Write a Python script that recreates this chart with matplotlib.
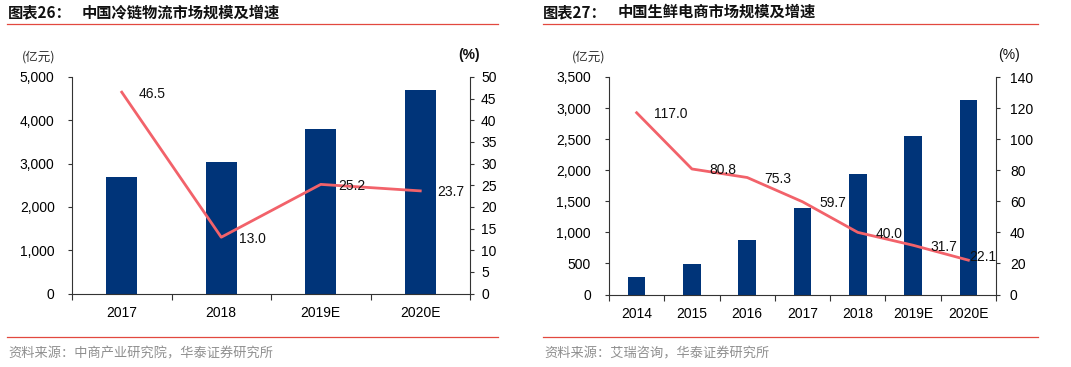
import matplotlib
matplotlib.use('Agg')
import matplotlib.pyplot as plt
from matplotlib.ticker import FuncFormatter, MultipleLocator, FixedLocator
from matplotlib.lines import Line2D

plt.rcParams['font.family'] = ['Liberation Sans', 'Noto Sans CJK SC', 'DejaVu Sans']

# ---- data ----
cold_years = ['2017', '2018', '2019E', '2020E']
cold_size = [2690, 3035, 3795, 4700]
cold_growth = [46.5, 13.0, 25.2, 23.7]

fresh_years = ['2014', '2015', '2016', '2017', '2018', '2019E', '2020E']
fresh_size = [280, 498, 873, 1394, 1940, 2555, 3125]
fresh_growth = [117.0, 80.8, 75.3, 59.7, 40.0, 31.7, 22.1]

left_title_no = '图表26：'
left_title = '中国冷链物流市场规模及增速'
left_source = '资料来源：中商产业研究院，华泰证券研究所'
right_title_no = '图表27：'
right_title = '中国生鲜电商市场规模及增速'
right_source = '资料来源：艾瑞咨询，华泰证券研究所'

W, H = 1071, 367
BAR = '#003479'
LINE = '#F2626A'
RED = '#E2483F'
SPINE = '#333333'

fig = plt.figure(figsize=(W / 100, H / 100), dpi=100)


def px(x, y):
    return x / W, 1 - y / H


def panel(x0, x1, ytop, ybot, cats, bars, growth, ymax, ystep, y2max, y2step, bw,
          lpad, rpad, label_offsets):
    l, t = px(x0, ytop)
    r, b = px(x1, ybot)
    ax = fig.add_axes([l, b, r - l, t - b])
    n = len(cats)
    xs = list(range(n))
    ax.bar(xs, bars, width=bw, color=BAR, zorder=2)
    ax.set_xlim(-0.5, n - 0.5)
    ax.set_ylim(0, ymax)
    ax.yaxis.set_major_locator(MultipleLocator(ystep))
    ax.yaxis.set_major_formatter(FuncFormatter(lambda v, p: f'{int(v):,}'))
    ax.set_xticks(xs)
    ax.set_xticklabels(cats)
    ax.xaxis.set_minor_locator(FixedLocator([i - 0.5 for i in range(n + 1)]))
    ax.tick_params(axis='x', which='major', length=0, pad=9, labelsize=10)
    ax.tick_params(axis='x', which='minor', length=4, width=0.8, color=SPINE, direction='out')
    ax.tick_params(axis='y', length=3, width=0.8, color=SPINE, direction='out', pad=lpad,
                   labelsize=10)
    ax.spines['top'].set_visible(False)
    for s in ['left', 'right', 'bottom']:
        ax.spines[s].set_color(SPINE)
        ax.spines[s].set_linewidth(0.8)
    ax.spines['right'].set_visible(False)

    ax2 = ax.twinx()
    ax2.set_ylim(0, y2max)
    ax2.yaxis.set_major_locator(MultipleLocator(y2step))
    ax2.tick_params(axis='y', length=3, width=0.8, color=SPINE, direction='out', pad=rpad,
                    labelsize=10)
    for s in ['top', 'left', 'bottom']:
        ax2.spines[s].set_visible(False)
    ax2.spines['right'].set_color(SPINE)
    ax2.spines['right'].set_linewidth(0.8)
    ax2.plot(xs, growth, color=LINE, lw=2.0, zorder=3)
    for i, v in zip(xs, growth):
        off = label_offsets.get(i, (12.5, -1))
        ax2.annotate(f'{v:.1f}', (i, v), xytext=off, textcoords='offset points',
                     ha='left', va='center', fontsize=10, color='#111111')
    return ax, ax2


panel(72, 470, 77, 293.5, cold_years, cold_size, cold_growth, 5000, 1000, 50, 5, 0.31,
      9.5, 5, {})
panel(609, 996, 77, 294.5, fresh_years, fresh_size, fresh_growth, 3500, 500, 140, 20, 0.32,
      10, 7, {6: (0.5, 2)})

# unit labels
fig.text(*px(22, 57), '(亿元)', fontsize=9, color='#333333', family=['Noto Sans CJK SC'],
         ha='left', va='center')
fig.text(*px(458, 55), '(%)', fontsize=10, color='#111111', weight='bold', ha='left', va='center')
fig.text(*px(572, 57), '(亿元)', fontsize=9, color='#333333', family=['Noto Sans CJK SC'],
         ha='left', va='center')
fig.text(*px(998, 55), '(%)', fontsize=10, color='#111111', ha='left', va='center')

# titles
for x_no, x_t, no, t in [(8, 82, left_title_no, left_title), (543, 618, right_title_no, right_title)]:
    fig.text(*px(x_no, 12), no, fontsize=11, weight='bold', color='#111111',
             family=['Noto Sans CJK SC'], ha='left', va='center')
    fig.text(*px(x_t, 12), t, fontsize=11, weight='bold', color='#111111',
             family=['Noto Sans CJK SC'], ha='left', va='center')

# rules
for (xa, xb) in [(7, 498), (543, 1038)]:
    for y in (23.5, 336.5):
        (x1, y1), (x2, y2) = px(xa, y), px(xb, y)
        fig.add_artist(Line2D([x1, x2], [y1, y2], color=RED, lw=0.9))

# sources
fig.text(*px(8, 354), left_source, fontsize=9.5, color='#8f8f8f', family=['Noto Sans CJK SC'],
         ha='left', va='center')
fig.text(*px(544, 354), right_source, fontsize=9.5, color='#8f8f8f', family=['Noto Sans CJK SC'],
         ha='left', va='center')

fig.savefig('out.png', dpi=100)
